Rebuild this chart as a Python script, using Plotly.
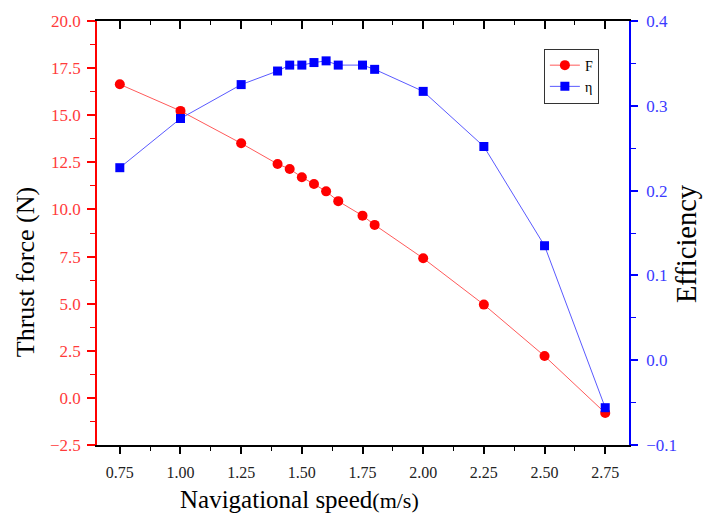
import plotly.graph_objects as go

# Navigational speed (m/s)
speed = [0.75, 1.00, 1.25, 1.40, 1.45, 1.50, 1.55, 1.60, 1.65, 1.75, 1.80, 2.00, 2.25, 2.50, 2.75]
# Thrust force F (N)
thrust = [16.64, 15.23, 13.51, 12.41, 12.15, 11.71, 11.35, 10.96, 10.44, 9.67, 9.18, 7.41, 4.95, 2.22, -0.80]
# Propulsive efficiency
efficiency = [0.227, 0.285, 0.325, 0.341, 0.348, 0.348, 0.351, 0.353, 0.348, 0.348, 0.343, 0.317, 0.252, 0.135, -0.056]

SERIF = "Liberation Serif"
RED = "#ff0000"
BLUE = "#0000ff"

fig = go.Figure()

fig.add_trace(go.Scatter(
    x=speed, y=thrust, name="F", mode="lines+markers",
    line=dict(color="#ff5a5a", width=1),
    marker=dict(symbol="circle", size=10, color=RED),
    yaxis="y",
))
fig.add_trace(go.Scatter(
    x=speed, y=efficiency, name="η", mode="lines+markers",
    line=dict(color="#5a5aff", width=1),
    marker=dict(symbol="square", size=9, color=BLUE),
    yaxis="y2",
))
# empty trace so the top frame axis gets drawn
fig.add_trace(go.Scatter(x=[], y=[], xaxis="x2", yaxis="y", showlegend=False, hoverinfo="skip"))

x_range = [0.656, 2.848]

fig.update_layout(
    width=703, height=515,
    margin=dict(l=97, r=74, t=16, b=70),
    plot_bgcolor="white", paper_bgcolor="white",
    font=dict(family=SERIF, color="black"),
    showlegend=True,
    legend=dict(
        x=0.84, y=0.935, xanchor="left", yanchor="top",
        bordercolor="#333333", borderwidth=1, bgcolor="white",
        font=dict(family=SERIF, size=14, color="black"),
        tracegroupgap=0, itemwidth=30,
    ),
    xaxis=dict(
        range=x_range, tick0=0.75, dtick=0.25, tickformat=".2f",
        showline=True, linecolor="black", linewidth=1.5,
        ticks="outside", ticklen=7, tickwidth=1.5, tickcolor="black",
        minor=dict(tick0=0.75, dtick=0.125, ticks="outside", ticklen=4, tickcolor="black", tickwidth=1),
        showgrid=False, zeroline=False, ticklabelstandoff=5,
        tickfont=dict(family=SERIF, size=16, color="#222222"),
    ),
    xaxis2=dict(
        range=x_range, overlaying="x", side="top", anchor="y",
        tick0=0.75, dtick=0.25, showticklabels=False,
        showline=True, linecolor="black", linewidth=1.5,
        ticks="inside", ticklen=8, tickwidth=1.5, tickcolor="black",
        minor=dict(tick0=0.75, dtick=0.125, ticks="inside", ticklen=4, tickcolor="black", tickwidth=1),
        showgrid=False, zeroline=False,
    ),
    yaxis=dict(
        range=[-2.5, 20], tick0=0, dtick=2.5, tickformat=".1f",
        showline=True, linecolor=RED, linewidth=1.5,
        ticks="outside", ticklen=8, tickwidth=1.5, tickcolor=RED,
        minor=dict(tick0=0, dtick=1.25, ticks="outside", ticklen=5, tickcolor=RED, tickwidth=1),
        showgrid=False, zeroline=False, ticklabelstandoff=3,
        tickfont=dict(family=SERIF, size=17, color="#ff3b3b"),
    ),
    yaxis2=dict(
        range=[-0.1, 0.4], tick0=0, dtick=0.1, tickformat=".1f",
        overlaying="y", side="right", anchor="x",
        showline=True, linecolor=BLUE, linewidth=1.5,
        ticks="outside", ticklen=7, tickwidth=1.5, tickcolor=BLUE,
        minor=dict(tick0=0, dtick=0.05, ticks="outside", ticklen=5, tickcolor=BLUE, tickwidth=1),
        showgrid=False, zeroline=False, ticklabelstandoff=5,
        tickfont=dict(family=SERIF, size=17, color="#3b3bff"),
    ),
)

# Axis titles placed as annotations
fig.add_annotation(
    text="Navigational speed<span style='font-size:22px'>(m/s)</span>",
    xref="paper", yref="paper", x=0.38, y=-0.128, xanchor="center", yanchor="middle",
    showarrow=False, font=dict(family=SERIF, size=25, color="black"),
)
fig.add_annotation(
    text="Thrust force (N)",
    xref="paper", yref="paper", x=-0.135, y=0.408, xanchor="center", yanchor="middle",
    textangle=-90, showarrow=False, font=dict(family=SERIF, size=26, color="black"),
)
fig.add_annotation(
    text="Efficiency",
    xref="paper", yref="paper", x=1.108, y=0.475, xanchor="center", yanchor="middle",
    textangle=-90, showarrow=False, font=dict(family=SERIF, size=28.5, color="black"),
)

fig.write_html("out.html")
